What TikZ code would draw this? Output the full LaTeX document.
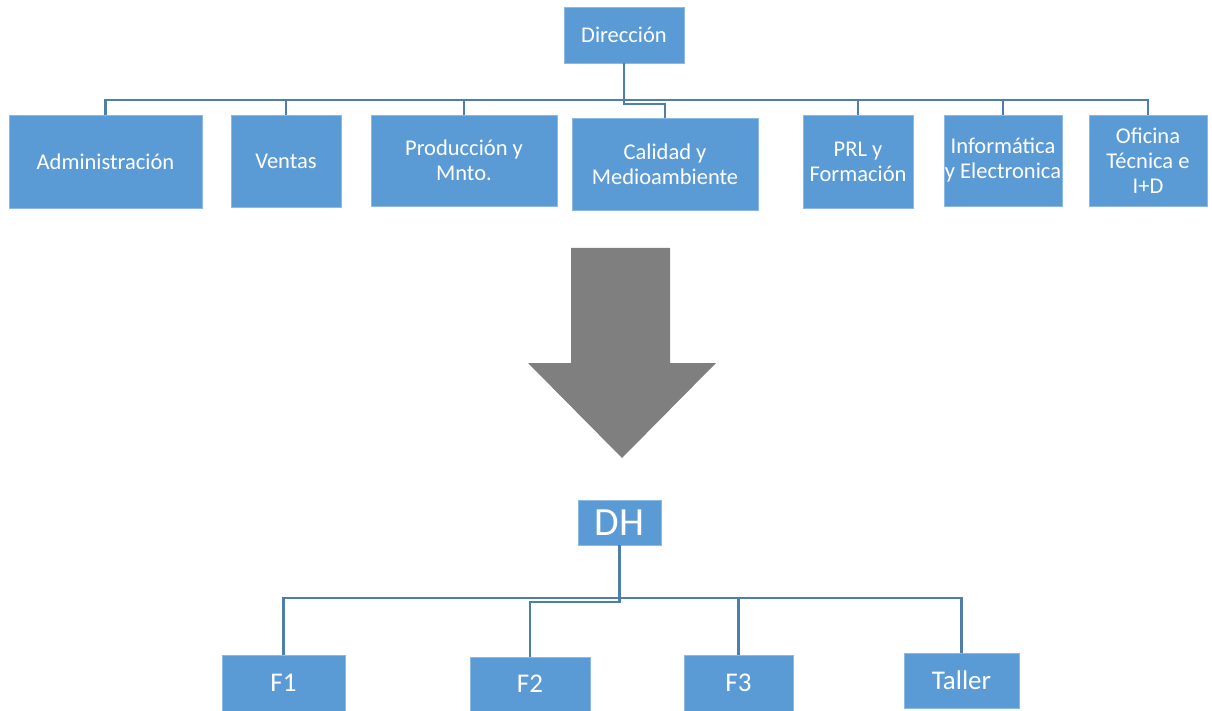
\documentclass[tikz,border=0pt]{standalone}
\usepackage{fontspec}
\setmainfont{Carlito}
\definecolor{boxblue}{HTML}{5B9BD5}
\definecolor{linkblue}{HTML}{4E7FAB}
\definecolor{arrowgray}{HTML}{7F7F7F}
\begin{document}
\begin{tikzpicture}[x=1pt,y=-1pt,
  unit/.style={fill=boxblue,draw=boxblue!70!white,line width=0.6pt,text=white,inner sep=0pt,align=center,
    font=\fontsize{22.5}{25}\selectfont},
  link/.style={draw=linkblue,line width=2.3pt},
]
\useasboundingbox (0,0) rectangle (1212,711);
% top level
\node[unit,minimum width=120pt,minimum height=56pt] (dir) at (624,35) {Dirección};
\node[unit,minimum width=193pt,minimum height=93pt] (adm) at (105.5,161.5) {Administración};
\node[unit,minimum width=110pt,minimum height=92pt] (ven) at (286,161) {Ventas};
\node[unit,minimum width=186pt,minimum height=91pt] (pro) at (464,160.5) {Producción y\\Mnto.};
\node[unit,minimum width=186pt,minimum height=92pt] (cal) at (665,164) {Calidad y\\Medioambiente};
\node[unit,minimum width=110pt,minimum height=93pt] (prl) at (858,161.5) {PRL y\\Formación};
\node[unit,minimum width=118pt,minimum height=91pt] (inf) at (1003,160.5) {Informática\\y Electronica};
\node[unit,minimum width=118pt,minimum height=91pt] (ofi) at (1148,160.5) {Oficina\\Técnica e\\I+D};
\coordinate (topbus) at (0,100);
\coordinate (topjog) at (0,104);
\draw[link] (adm.north) -- (adm.north |- topbus) -- (ofi.north |- topbus) -- (ofi.north);
\draw[link] (ven.north) -- (ven.north |- topbus);
\draw[link] (pro.north) -- (pro.north |- topbus);
\draw[link] (prl.north) -- (prl.north |- topbus);
\draw[link] (inf.north) -- (inf.north |- topbus);
\draw[link] (dir.south) -- (dir.south |- topjog) -| (cal.north);
% big arrow
\fill[arrowgray] (571,248) -- (670,248) -- (670,363) -- (716,363) -- (622,458) -- (528,363) -- (571,363) -- cycle;
% bottom level
\node[unit,minimum width=83pt,minimum height=45pt,font=\fontsize{40}{44}\selectfont] (dh) at (619.5,522.5) {DH};
\node[unit,minimum width=123pt,minimum height=56pt,font=\fontsize{27}{30}\selectfont] (f1) at (283.5,683) {F1};
\node[unit,minimum width=120pt,minimum height=54pt,font=\fontsize{27}{30}\selectfont] (f2) at (530,684) {F2};
\node[unit,minimum width=109pt,minimum height=56pt,font=\fontsize{27}{30}\selectfont] (f3) at (738.5,683) {F3};
\node[unit,minimum width=115pt,minimum height=55pt,font=\fontsize{27}{30}\selectfont] (taller) at (961.5,680.5) {Taller};
\coordinate (botbus) at (0,598);
\coordinate (botjog) at (0,602);
\draw[link] (f1.north) -- (f1.north |- botbus) -- (taller.north |- botbus) -- (taller.north);
\draw[link] (f3.north) -- (f3.north |- botbus);
\draw[link] (dh.south) -- (dh.south |- botjog) -| (f2.north);
\end{tikzpicture}
\end{document}
